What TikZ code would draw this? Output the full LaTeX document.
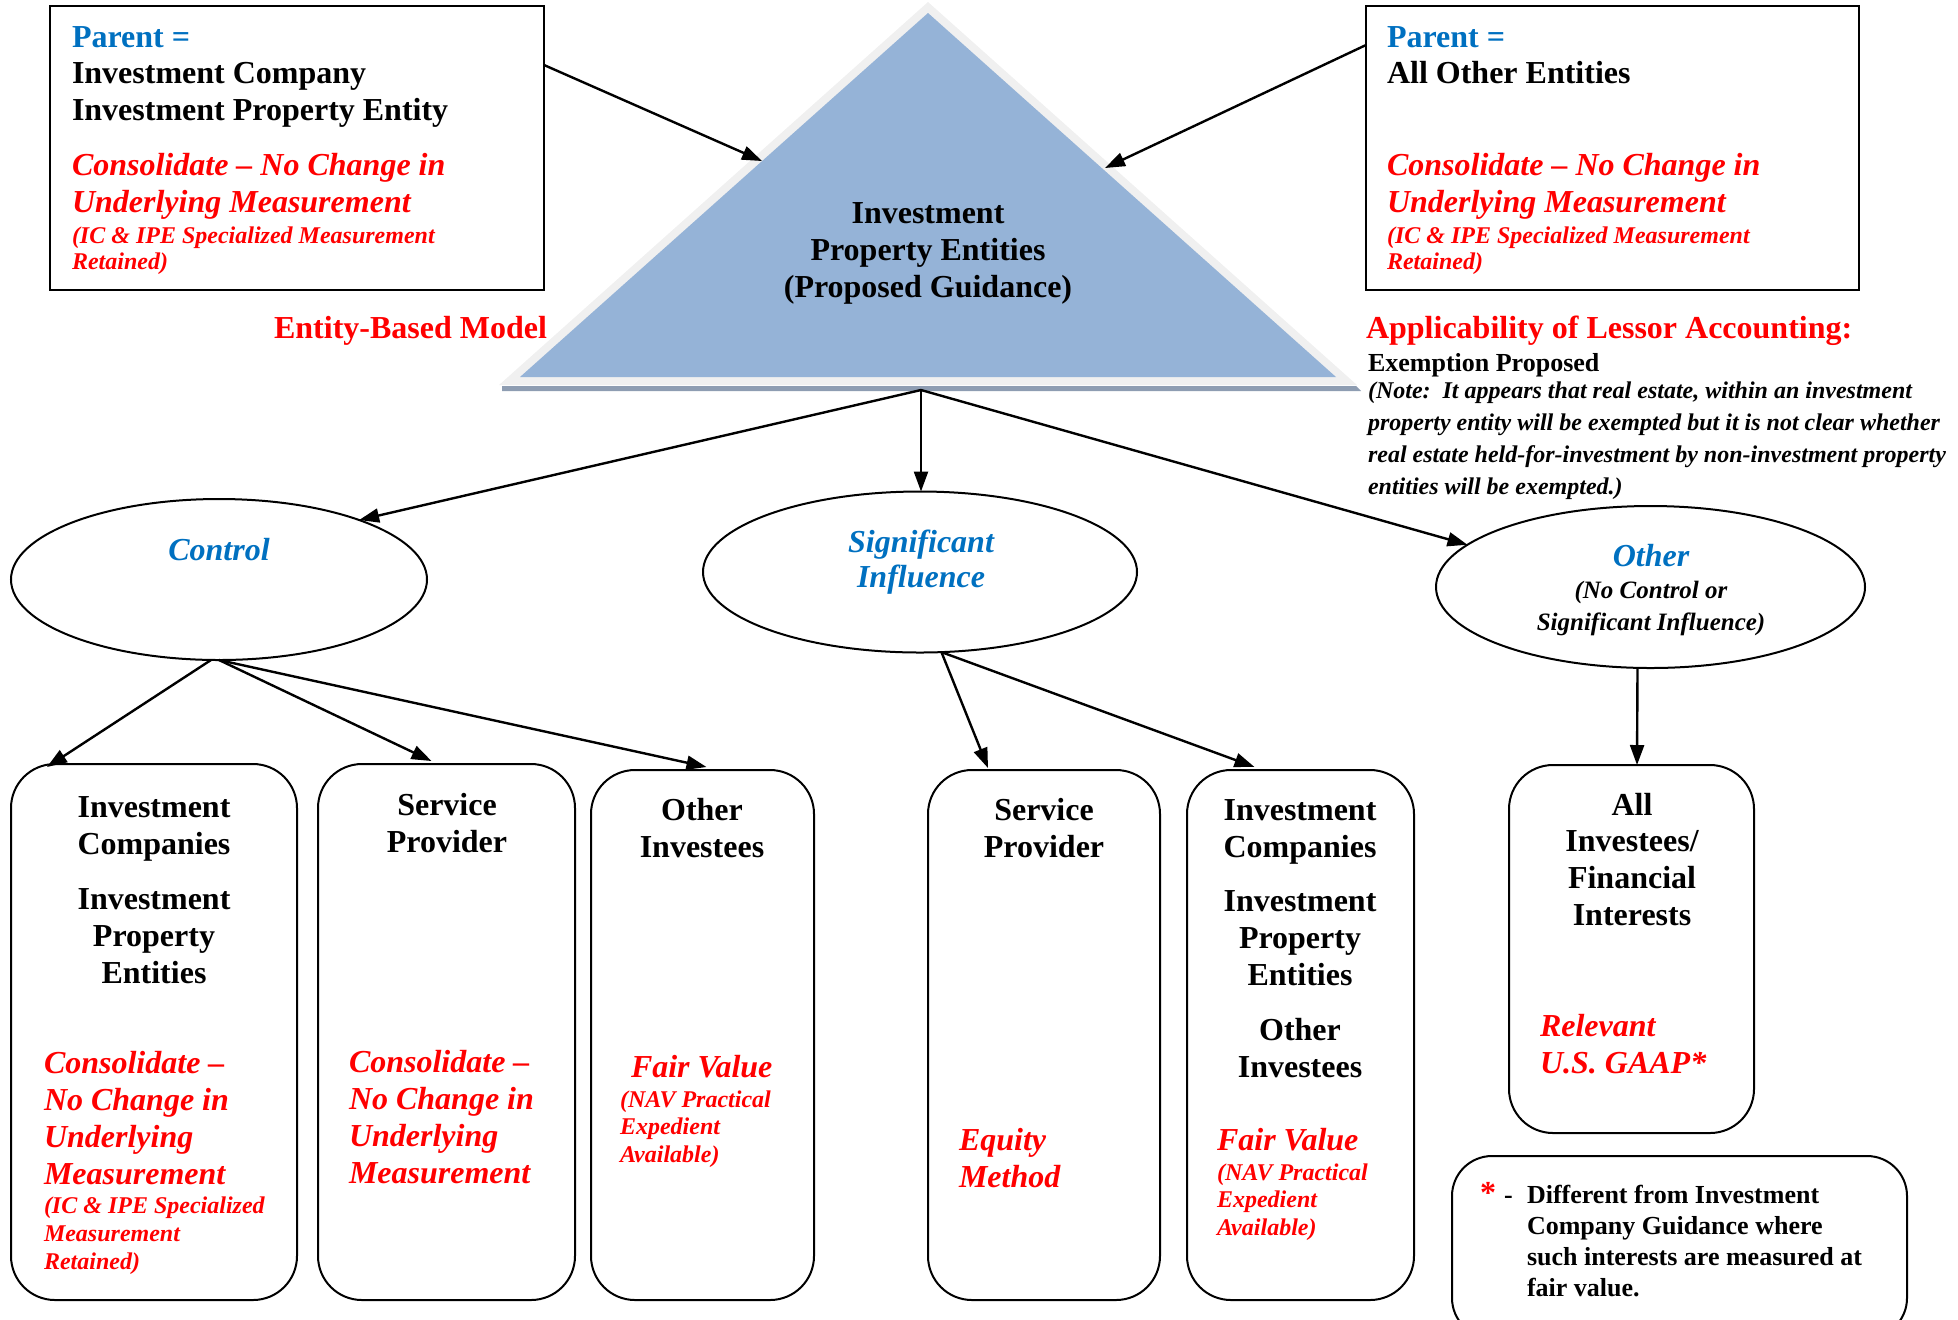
\documentclass[tikz,border=0pt]{standalone}
\usepackage{fontspec}
\setmainfont{Liberation Serif}
\usetikzlibrary{arrows.meta,shapes.geometric,calc}
\definecolor{tblue}{HTML}{0070C0}
\definecolor{tred}{HTML}{FF0000}
\definecolor{trifill}{HTML}{95B3D7}
\definecolor{triedge}{HTML}{F0F0F0}
\definecolor{tribase}{HTML}{8E9DB2}
\newcommand{\blk}[1]{\begin{tabular}[t]{@{}l@{}}#1\end{tabular}}
\newcommand{\cblk}[1]{\begin{tabular}[t]{@{}c@{}}#1\end{tabular}}
\newcommand{\fsz}[2]{\fontsize{#1}{#2}\selectfont}
\begin{document}
\begin{tikzpicture}[x=0.5pt,y=-0.5pt,
  every node/.style={inner sep=0pt,outer sep=0pt},
  arr/.style={-{Triangle[length=10pt,width=7pt]},line width=1.2pt},
  sqbox/.style={draw,line width=1.1pt,rectangle},
  rbox/.style={draw,line width=1pt,rectangle,rounded corners=22pt},
  ell/.style={draw,line width=1pt,ellipse},
  tb/.style={font=\fsz{16}{18.5}\bfseries},
  tbi/.style={font=\fsz{16}{18.5}\bfseries\itshape},
  tsi/.style={font=\fsz{12}{14}\bfseries\itshape}]
\useasboundingbox (0,0) rectangle (1958,1319);
\clip (0,0) rectangle (1958,1319);

% ---------- triangle ----------
\fill[tribase] (502,386) -- (1356,386) -- (1361,391) -- (502,391) -- cycle;
\fill[triedge] (928,2) -- (1357,385) -- (499,385) -- cycle;
\fill[trifill] (928,13) -- (1336,377) -- (520,377) -- cycle;
\coordinate (tribot) at (921,390);
\coordinate (triL) at (762,161);
\coordinate (triR) at (1105,168);
\node[tb,anchor=base] (tritext) at (928,223) {\cblk{Investment\\Property Entities\\(Proposed Guidance)}};

% ---------- top boxes ----------
\node[sqbox,minimum width=247pt,minimum height=142pt] (lbox) at (297,148) {};
\node[font=\fsz{16}{18.25}\bfseries,anchor=base west] (ltext) at (72,47)
  {\blk{\textcolor{tblue}{Parent =}\\Investment Company\\Investment Property Entity}};
\node[tbi,text=tred,anchor=base west] (lred) at (72,175) {\blk{Consolidate -- No Change in\\Underlying Measurement}};
\node[font=\fsz{12}{13.25}\bfseries\itshape,text=tred,anchor=base west] (lsmall) at (72,243)
  {\blk{(IC \& IPE Specialized Measurement\\Retained)}};

\node[sqbox,minimum width=246.5pt,minimum height=142pt] (rbx) at (1612.5,148) {};
\node[font=\fsz{16}{18.25}\bfseries,anchor=base west] (rtext) at (1387,47)
  {\blk{\textcolor{tblue}{Parent =}\\All Other Entities}};
\node[tbi,text=tred,anchor=base west] (rred) at (1387,175) {\blk{Consolidate -- No Change in\\Underlying Measurement}};
\node[font=\fsz{12}{13.25}\bfseries\itshape,text=tred,anchor=base west] (rsmall) at (1387,243)
  {\blk{(IC \& IPE Specialized Measurement\\Retained)}};

\node[tb,text=tred,anchor=base east] (ebm) at (547,338) {Entity-Based Model};
\node[tb,text=tred,anchor=base west] (appl) at (1366,338) {Applicability of Lessor Accounting:};
\node[font=\fsz{13}{15}\bfseries,anchor=base west] (exem) at (1368,371) {Exemption Proposed};
\node[font=\fsz{12}{16}\bfseries\itshape,anchor=base west] (note) at (1368,398)
  {\blk{(Note:\ \ It appears that real estate, within an investment\\
  property entity will be exempted but it is not clear whether\\
  real estate held-for-investment by non-investment property\\
  entities will be exempted.)}};

% ---------- ellipses ----------
\node[ell,minimum width=208pt,minimum height=80.5pt] (ctrl) at (219,579.5) {};
\node[tbi,text=tblue,anchor=base] (ctrltxt) at (219,560) {Control};
\node[ell,minimum width=217pt,minimum height=80.5pt] (sig) at (920,572) {};
\node[font=\fsz{16}{17.5}\bfseries\itshape,text=tblue,anchor=base] (sigtxt) at (921,552) {\cblk{Significant\\Influence}};
\node[ell,minimum width=214.5pt,minimum height=81pt] (oth) at (1650.5,587) {};
\node[tbi,text=tblue,anchor=base] (othtxt) at (1651,566) {Other};
\node[font=\fsz{12.5}{16}\bfseries\itshape,anchor=base] (othsub) at (1651,598) {\cblk{(No Control or\\Significant Influence)}};

% ---------- bottom boxes ----------
\node[rbox,minimum width=143pt,minimum height=268pt] (box1) at (154,1032) {};
\node[tb,anchor=base] (b1t) at (154,817) {\cblk{Investment\\Companies\\[9pt]Investment\\Property\\Entities}};
\node[font=\fsz{16}{18.65}\bfseries\itshape,text=tred,anchor=base west] (b1r) at (44,1073) {\blk{Consolidate --\\No Change in\\Underlying\\Measurement}};
\node[tsi,text=tred,anchor=base west] (b1s) at (44,1213) {\blk{(IC \& IPE Specialized\\Measurement\\Retained)}};

\node[rbox,minimum width=128.5pt,minimum height=268pt] (box2) at (446.5,1032) {};
\node[tb,anchor=base] (b2t) at (447,815) {\cblk{Service\\Provider}};
\node[tbi,text=tred,anchor=base west] (b2r) at (349,1072) {\blk{Consolidate --\\No Change in\\Underlying\\Measurement}};

\node[rbox,minimum width=111.5pt,minimum height=265pt] (box3) at (702.5,1035) {};
\node[tb,anchor=base] (b3t) at (702,820) {\cblk{Other\\Investees}};
\node[tbi,text=tred,anchor=base west] (b3r) at (631,1077) {Fair Value};
\node[font=\fsz{12}{13.75}\bfseries\itshape,text=tred,anchor=base west] (b3s) at (620,1107) {\blk{(NAV Practical\\Expedient\\Available)}};

\node[rbox,minimum width=116pt,minimum height=265pt] (box4) at (1044,1035) {};
\node[tb,anchor=base] (b4t) at (1044,820) {\cblk{Service\\Provider}};
\node[tbi,text=tred,anchor=base west] (b4r) at (959,1150) {\blk{Equity\\Method}};

\node[rbox,minimum width=113.5pt,minimum height=265pt] (box5) at (1300.5,1035) {};
\node[tb,anchor=base] (b5t) at (1300,820) {\cblk{Investment\\Companies\\[8.5pt]Investment\\Property\\Entities\\[9pt]Other\\Investees}};
\node[tbi,text=tred,anchor=base west] (b5r) at (1217,1150) {Fair Value};
\node[font=\fsz{12}{13.75}\bfseries\itshape,text=tred,anchor=base west] (b5s) at (1217,1180) {\blk{(NAV Practical\\Expedient\\Available)}};

\node[rbox,minimum width=122.5pt,minimum height=184pt] (box6) at (1631.5,949) {};
\node[font=\fsz{16}{18.35}\bfseries,anchor=base] (b6t) at (1632,815) {\cblk{All\\Investees/\\Financial\\Interests}};
\node[tbi,text=tred,anchor=base west] (b6r) at (1540,1036) {\blk{Relevant\\U.S. GAAP*}};

\node[rbox,rounded corners=20pt,minimum width=227.5pt,minimum height=91pt] (fnbox) at (1679.5,1247) {};
\node[font=\fsz{16}{16}\bfseries,text=tred,anchor=base west] (fnstar) at (1480,1203) {*};
\node[font=\fsz{13}{15}\bfseries,anchor=base west] (fndash) at (1504,1203) {-};
\node[font=\fsz{13}{15.5}\bfseries,anchor=base west] (fntext) at (1527,1203)
  {\blk{Different from Investment\\Company Guidance where\\such interests are measured at\\fair value.}};

% ---------- connectors ----------
\draw[arr] ($(lbox.north east)+(0,59)$) -- (triL);
\draw[arr] ($(rbx.north west)+(0,39)$) -- (triR);
\draw[arr] (tribot) -- (ctrl.23);
\draw[arr] (tribot) -- (tribot |- sig.north);
\draw[arr] (tribot) -- (oth.167);
\draw[arr] ($(ctrl.south)+(-8,0)$) -- ($(box1.north west)+(36,3)$);
\draw[arr] (ctrl.south) -- ($(box2.north)+(-15,-3)$);
\draw[arr] (ctrl.south) -- ($(box3.north)+(4,-3)$);
\draw[arr] (sig.-75) -- ($(box4.north)+(-56,-2)$);
\draw[arr] (sig.-75) -- ($(box5.north)+(-46,-3)$);
\draw[arr] ($(oth.south)+(-13,0)$) -- ($(box6.north)+(5.5,0)$);
\end{tikzpicture}
\end{document}
